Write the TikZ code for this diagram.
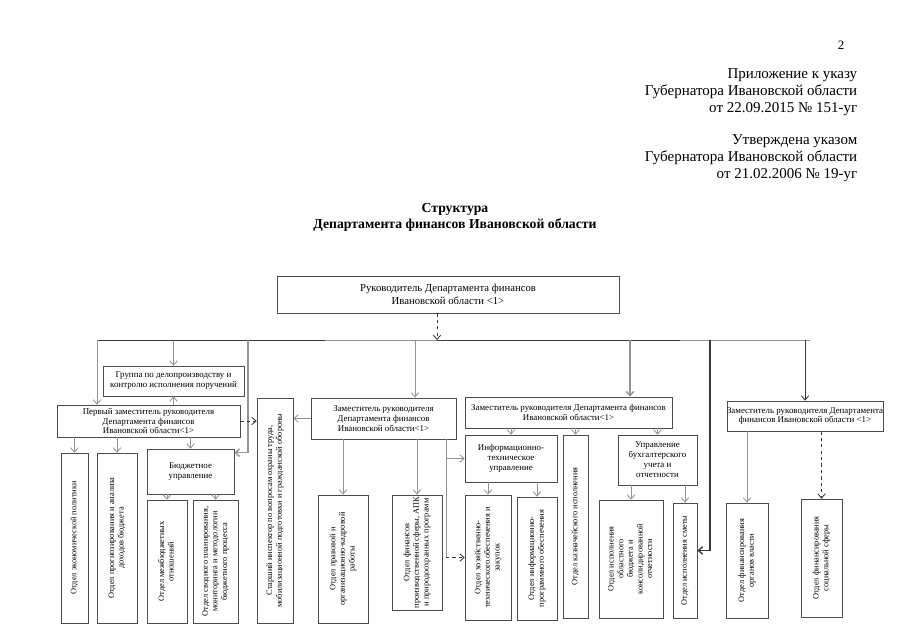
\documentclass[tikz,border=0pt]{standalone}
\usepackage{fontspec}
\setmainfont{Liberation Serif}
\usepackage{graphicx}
\usetikzlibrary{arrows.meta}

\newcommand{\pxu}{0.32818mm}
\newcommand{\vtext}[1]{\fontsize{7.8}{9}\selectfont\rotatebox{90}{\begin{tabular}{@{}c@{}}#1\end{tabular}}}

\tikzset{
  box/.style = {draw=gray!60!black, line width=0.6pt, inner sep=0pt, align=center,
                font=\fontsize{8.3}{9.3}\selectfont},
  link/.style = {draw=gray!85, line width=0.8pt, -{Straight Barb[length=4pt,width=7pt]}},
  darklink/.style = {link, draw=gray!45!black},
  busline/.style = {line width=0.9pt},
}

\begin{document}
\begin{tikzpicture}[x=\pxu, y=-\pxu]
  \useasboundingbox (0,0) rectangle (905,640);

  % header
  \node[font=\fontsize{12}{14}\selectfont] (page) at (841,45) {2};
  \node[anchor=east, align=right, font=\fontsize{14}{15.8}\selectfont] (appx) at (861,92)
    {Приложение к указу\\Губернатора Ивановской области\\от 22.09.2015 № 151-уг};
  \node[anchor=east, align=right, font=\fontsize{14}{15.8}\selectfont] (appr) at (861,158)
    {Утверждена указом\\Губернатора Ивановской области\\от 21.02.2006 № 19-уг};
  \node[align=center, font=\bfseries\fontsize{12.8}{15}\selectfont] (title) at (455,217)
    {Структура\\Департамента финансов Ивановской области};

  % head
  \node[box, font=\fontsize{10}{12}\selectfont, minimum width=342*\pxu, minimum height=37*\pxu]
    (top) at (448,294.5) {Руководитель Департамента финансов\\Ивановской области <1>};

  % first deputy
  \node[box, minimum width=141*\pxu, minimum height=30*\pxu] (group) at (173.5,381)
    {Группа по делопроизводству и\\контролю исполнения поручений};
  \node[box, minimum width=183*\pxu, minimum height=32*\pxu] (first) at (148.5,421)
    {Первый заместитель руководителя\\Департамента финансов\\Ивановской области<1>};
  \node[box, minimum width=27*\pxu, minimum height=170*\pxu] (ecopol) at (74.5,538)
    {\vtext{Отдел экономической политики}};
  \node[box, minimum width=40*\pxu, minimum height=170*\pxu] (prog) at (117,538)
    {\vtext{Отдел прогнозирования и анализа\\доходов бюджета}};
  \node[box, minimum width=87*\pxu, minimum height=45*\pxu] (budget) at (190.5,471.5)
    {Бюджетное\\управление};
  \node[box, minimum width=40*\pxu, minimum height=123*\pxu] (mezh) at (167,561.5)
    {\vtext{Отдел межбюджетных\\отношений}};
  \node[box, minimum width=45*\pxu, minimum height=123*\pxu] (svod) at (215.5,561.5)
    {\vtext{Отдел сводного планирования,\\мониторинга и методологии\\бюджетного процесса}};
  \node[box, minimum width=36*\pxu, minimum height=225*\pxu] (insp) at (275,510.5)
    {\vtext{Старший инспектор по вопросам охраны труда,\\мобилизационной подготовки и гражданской обороны}};

  % deputy 1
  \node[box, minimum width=145*\pxu, minimum height=41*\pxu] (dep1) at (383.5,418.5)
    {Заместитель руководителя\\Департамента финансов\\Ивановской области<1>};
  \node[box, minimum width=50*\pxu, minimum height=128*\pxu] (prav) at (343,559)
    {\vtext{Отдел правовой и\\организационно-кадровой\\работы}};
  \node[box, minimum width=50*\pxu, minimum height=115*\pxu] (fin) at (417,552.5)
    {\vtext{Отдел финансов\\производственной сферы, АПК\\и природоохранных программ}};

  % deputy 2
  \node[box, minimum width=207*\pxu, minimum height=31*\pxu] (dep2) at (568.5,412.5)
    {Заместитель руководителя Департамента финансов\\Ивановской области<1>};
  \node[box, minimum width=92*\pxu, minimum height=47*\pxu] (infot) at (511,458.5)
    {Информационно-\\техническое\\управление};
  \node[box, minimum width=46*\pxu, minimum height=125*\pxu] (hoz) at (488,557.5)
    {\vtext{Отдел хозяйственно-\\технического обеспечения и\\закупок}};
  \node[box, minimum width=40*\pxu, minimum height=123*\pxu] (infprog) at (537,558.5)
    {\vtext{Отдел информационно-\\программного обеспечения}};
  \node[box, minimum width=25*\pxu, minimum height=183*\pxu] (kazn) at (575.5,526.5)
    {\vtext{Отдел казначейского исполнения}};
  \node[box, minimum width=79*\pxu, minimum height=50*\pxu] (buh) at (657.5,460)
    {Управление\\бухгалтерского\\учета и\\отчетности};
  \node[box, minimum width=64*\pxu, minimum height=118*\pxu] (isp) at (631,559)
    {\vtext{Отдел исполнения\\областного\\бюджета и\\консолидированной\\отчетности}};
  \node[box, minimum width=24*\pxu, minimum height=115*\pxu] (smeta) at (685,560.5)
    {\vtext{Отдел исполнения сметы}};

  % deputy 3
  \node[box, minimum width=156*\pxu, minimum height=30*\pxu] (dep4) at (805,416)
    {Заместитель руководителя Департамента\\финансов Ивановской области <1>};
  \node[box, minimum width=42*\pxu, minimum height=115*\pxu] (orgv) at (747,560.5)
    {\vtext{Отдел финансирования\\органов власти}};
  \node[box, minimum width=41*\pxu, minimum height=118*\pxu] (soc) at (821.5,558)
    {\vtext{Отдел финансирования\\социальной сферы}};

  % bus
  \coordinate (bL) at (97,340);
  \coordinate (bA) at (325,340);
  \coordinate (jTop) at (437,340);
  \coordinate (bB) at (680,340);
  \coordinate (bR) at (810,340);
  \coordinate (jInsp) at (248,340);
  \coordinate (jDep1) at (415,340);
  \coordinate (jDep2) at (630,340);
  \coordinate (jSmeta) at (710,340);
  \draw[busline, gray!45!black] (bL) -- (bA);
  \draw[busline, gray!85] (bA) -- (jTop);
  \draw[busline, gray!45!black] (jTop) -- (bB);
  \draw[busline, gray!85] (bB) -- (bR);

  \draw[darklink, dashed] (jTop |- top.south) -- (jTop);
  \draw[link] (bL) -- (bL |- first.north);
  \draw[link] (group.north |- bL) -- (group.north);
  \draw[link] (group.south |- first.north) -- (group.south);
  \draw[link, line width=1.3pt] (jInsp) |- ([yshift=-4*\pxu]budget.north east);
  \draw[darklink, dashed] (first.east) -- (first.east -| insp.west);
  \draw[link] (dep1.west) -- (dep1.west -| insp.east);
  \draw[link] (jDep1) -- (jDep1 |- dep1.north);
  \draw[link, line width=1.3pt] (jDep2) -- (jDep2 |- dep2.north);
  \draw[darklink, line width=1.3pt] (jSmeta) |- ([yshift=10*\pxu]smeta.east);
  \draw[darklink] (dep4.north |- bL) -- (dep4.north);

  % first deputy
  \foreach \sub in {ecopol, prog, budget}
    \draw[link] (\sub.north |- first.south) -- (\sub.north);
  \foreach \sub in {mezh, svod}
    \draw[link] (\sub.north |- budget.south) -- (\sub.north);

  % deputy 1
  \foreach \sub in {prav, fin}
    \draw[link] (\sub.north |- dep1.south) -- (\sub.north);
  \coordinate (d1r) at (446,439);
  \draw[gray!85, line width=0.8pt] (d1r) -- (d1r |- hoz.west);
  \draw[link] (d1r |- infot.west) -- (infot.west);
  \draw[darklink, dashed] (d1r |- hoz.west) -- (hoz.west);

  % deputy 2
  \foreach \sub in {infot, kazn, buh}
    \draw[link] (\sub.north |- dep2.south) -- (\sub.north);
  \foreach \sub in {hoz, infprog}
    \draw[link] (\sub.north |- infot.south) -- (\sub.north);
  \foreach \sub in {isp, smeta}
    \draw[link] (\sub.north |- buh.south) -- (\sub.north);

  % deputy 3
  \draw[link] (orgv.north |- dep4.south) -- (orgv.north);
  \draw[darklink, dashed] (soc.north |- dep4.south) -- (soc.north);
\end{tikzpicture}
\end{document}
